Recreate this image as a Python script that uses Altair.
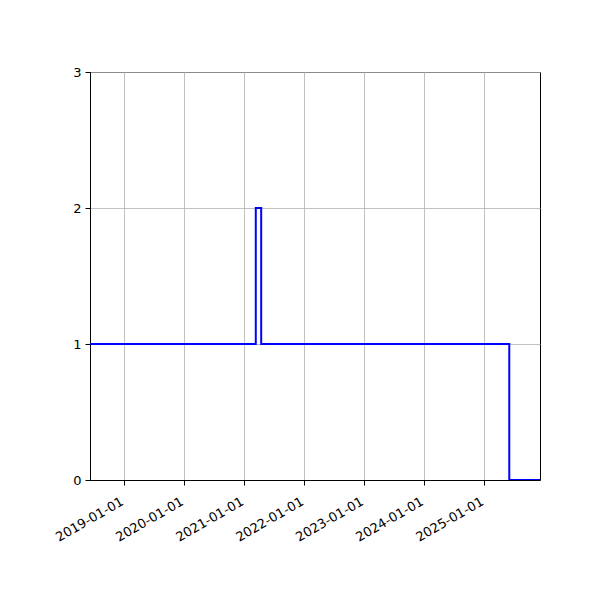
import altair as alt
import pandas as pd

dates = ["2018-06-08", "2021-03-13", "2021-04-15", "2025-06-03", "2025-12-07"]
values = [1, 2, 1, 0, 0]
tick_years = [2019, 2020, 2021, 2022, 2023, 2024, 2025]

df = pd.DataFrame({"date": dates, "value": values})

font = "DejaVu Sans"

chart = alt.Chart(df).mark_line(
    interpolate="step-after", color="#0000ff", strokeWidth=2, clip=True
).encode(
    x=alt.X(
        "date:T",
        scale=alt.Scale(type="utc", domain=[alt.DateTime(year=2018, month=6, date=8, utc=True),
                                            alt.DateTime(year=2025, month=12, date=7, utc=True)]),
        axis=alt.Axis(
            values=[alt.DateTime(year=y, month=1, date=1, utc=True) for y in tick_years],
            format="%Y-%m-%d",
            labelAngle=-30,
            labelAlign="right",
            labelBaseline="top",
            labelOverlap=False,
            labelPadding=10,
            labelOffset=-5,
            title=None,
        ),
    ),
    y=alt.Y(
        "value:Q",
        scale=alt.Scale(domain=[0, 3], nice=False),
        axis=alt.Axis(values=[0, 1, 2, 3], format="d", title=None, labelPadding=4),
    ),
).properties(
    width=450,
    height=408,
    autosize="none",
    padding={"left": 82, "top": 64, "right": 52, "bottom": 120},
).configure_view(
    stroke="black", strokeWidth=1
).configure_axis(
    grid=True,
    gridColor="#b0b0b0",
    gridWidth=0.8,
    domainColor="black",
    domainWidth=1,
    tickColor="black",
    tickSize=5,
    tickWidth=1,
    labelFont=font,
    labelFontSize=13,
    labelColor="black",
)

chart.save("out.html", embed_options={"renderer": "svg", "actions": False})
